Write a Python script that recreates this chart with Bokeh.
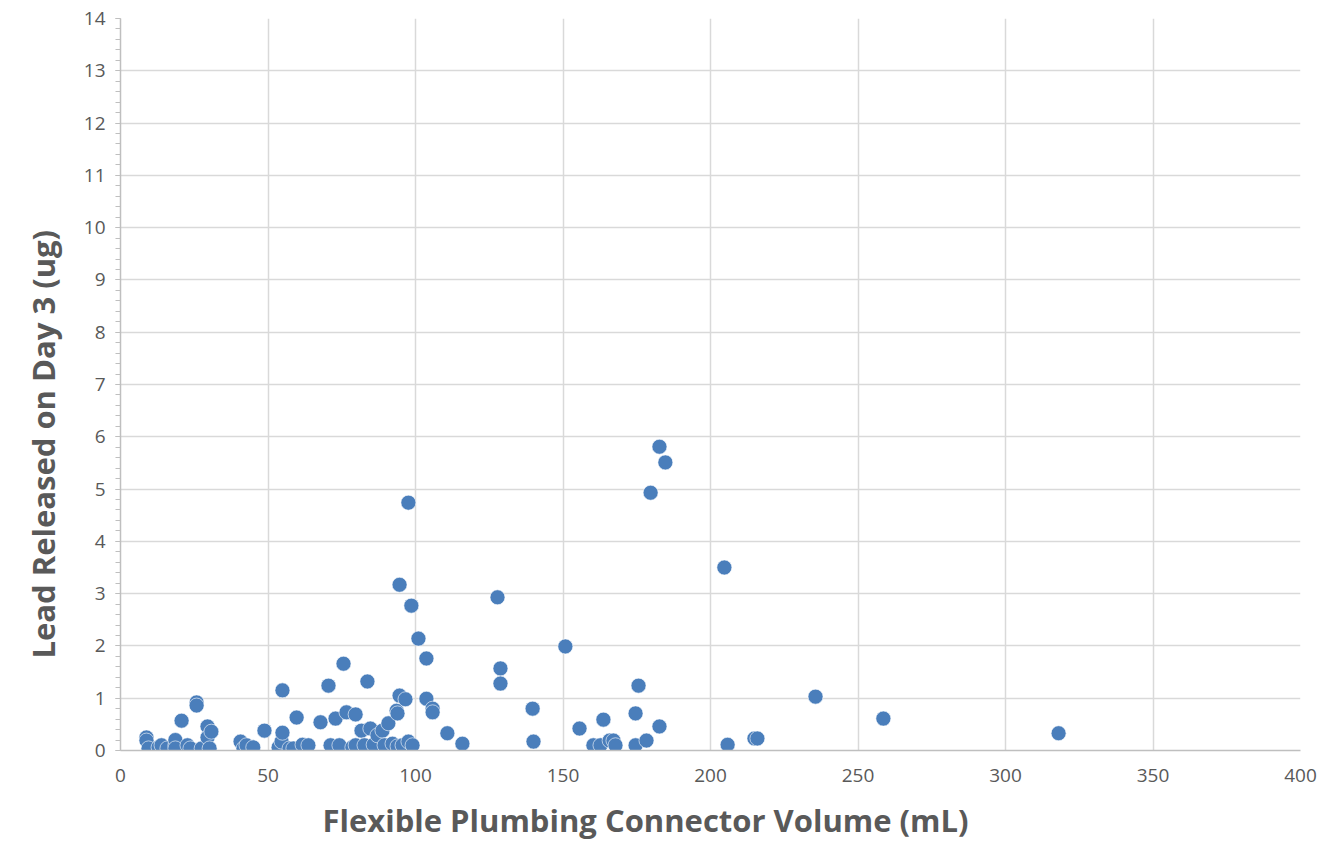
from bokeh.plotting import figure
from bokeh.models import Range1d, SingleIntervalTicker, ColumnDataSource, Title
from bokeh.embed import file_html
from bokeh.resources import INLINE

volume_ml = [8.8, 8.8, 9.5, 12.9, 13.9, 15.9, 18.6, 18.6, 18.6, 20.7, 22.7, 23.7, 25.8, 25.8,
             27.5, 29.5, 29.5, 30.2, 30.8, 40.7, 41.7, 42.7, 45.0, 48.8, 53.6, 54.6, 54.9, 54.9,
             57.3, 58.6, 59.7, 61.7, 63.7, 67.8, 70.5, 71.2, 72.9, 74.2, 75.6, 76.6, 78.6, 79.7,
             79.7, 81.7, 82.7, 83.7, 84.7, 85.8, 87.1, 88.8, 89.5, 90.8, 92.2, 93.9, 93.6, 93.9,
             94.6, 94.6, 95.6, 96.6, 97.6, 97.6, 98.6, 99.0, 101.0, 103.7, 103.7, 105.8, 105.8,
             110.8, 115.9, 127.8, 128.8, 128.8, 139.7, 140.0, 150.8, 155.6, 160.3, 162.7, 163.7,
             165.8, 167.1, 167.8, 174.6, 174.6, 175.6, 178.3, 179.7, 182.7, 182.7, 184.7, 204.7,
             205.8, 214.9, 215.9, 235.6, 258.6, 318.0]
lead_ug = [0.25, 0.19, 0.04, 0.06, 0.10, 0.04, 0.10, 0.20, 0.04, 0.57, 0.10, 0.04, 0.92, 0.86,
           0.04, 0.46, 0.25, 0.04, 0.36, 0.17, 0.04, 0.10, 0.06, 0.38, 0.06, 0.17, 1.15, 0.34,
           0.04, 0.04, 0.63, 0.11, 0.10, 0.54, 1.24, 0.10, 0.61, 0.10, 1.66, 0.73, 0.06, 0.69,
           0.10, 0.38, 0.10, 1.32, 0.42, 0.11, 0.29, 0.38, 0.10, 0.52, 0.13, 0.08, 0.76, 0.71,
           3.17, 1.05, 0.10, 0.98, 4.74, 0.17, 2.77, 0.10, 2.14, 1.76, 0.99, 0.80, 0.73,
           0.33, 0.13, 2.93, 1.57, 1.28, 0.80, 0.17, 1.99, 0.42, 0.10, 0.10, 0.59,
           0.19, 0.19, 0.10, 0.71, 0.10, 1.24, 0.19, 4.93, 5.81, 0.46, 5.51, 3.50,
           0.11, 0.23, 0.23, 1.03, 0.61, 0.33]

x_title = "Flexible Plumbing Connector Volume (mL)"
y_title = "Lead Released on Day 3 (ug)"

src = ColumnDataSource(dict(x=volume_ml, y=lead_ug))

p = figure(width=1321, height=852, output_backend="svg", toolbar_location=None,
           x_range=Range1d(0, 400), y_range=Range1d(0, 14),
           min_border_left=120, min_border_right=21, min_border_top=18, min_border_bottom=102)
p.outline_line_color = None
p.background_fill_color = "white"
p.border_fill_color = "white"

p.scatter("x", "y", source=src, size=15, fill_color="#4a7ebb", line_color="white", line_width=0.6)

font = "Open Sans"
grey = "#595959"

p.xaxis.ticker = SingleIntervalTicker(interval=50, num_minor_ticks=0)
p.yaxis.ticker = SingleIntervalTicker(interval=1, num_minor_ticks=5)

for ax in (p.xaxis[0], p.yaxis[0]):
    ax.axis_line_color = "#bfbfbf"
    ax.axis_line_width = 1.5
    ax.major_label_text_font = font
    ax.major_label_text_font_size = "19px"
    ax.major_label_text_color = grey

p.xaxis.major_tick_line_color = None
p.xaxis.minor_tick_line_color = None
p.xaxis.major_label_standoff = 12

p.yaxis.major_tick_line_color = "#bfbfbf"
p.yaxis.minor_tick_line_color = "#bfbfbf"
p.yaxis.major_tick_out = 5
p.yaxis.major_tick_in = 0
p.yaxis.minor_tick_out = 5
p.yaxis.minor_tick_in = 0
p.yaxis.major_label_standoff = 10

p.xgrid.grid_line_color = "#d9d9d9"
p.xgrid.grid_line_width = 1.5
p.ygrid.grid_line_color = "#d9d9d9"
p.ygrid.grid_line_width = 1.5

p.add_layout(Title(text=x_title, text_font=font, text_font_size="31px", text_font_style="bold",
                   text_color=grey, align="left", offset=202, standoff=24), "below")
p.add_layout(Title(text=y_title, text_font=font, text_font_size="31px", text_font_style="bold",
                   text_color=grey, align="left", offset=92, standoff=34), "left")

open("out.html", "w").write(file_html(p, INLINE))
